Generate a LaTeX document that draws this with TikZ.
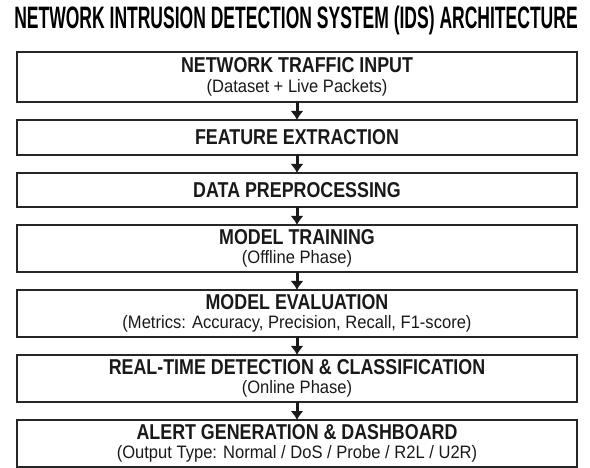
\documentclass[tikz,border=0pt]{standalone}
\usepackage{fontspec}
\setmainfont{Liberation Sans}
\usetikzlibrary{arrows.meta,positioning}
\newfontfamily\titlefam[FakeStretch=0.565]{Liberation Sans}
\newfontfamily\headfam[FakeStretch=0.83]{Liberation Sans}
\newfontfamily\subfam[FakeStretch=0.92]{Liberation Sans}
\newcommand\headfont{\headfam\bfseries\fontsize{21.5}{17}\selectfont}
\newcommand\subfont{\subfam\mdseries\fontsize{18}{17}\selectfont}

\begin{document}
\begin{tikzpicture}[x=1pt,y=-1pt,>=Latex,node distance=18pt,
  box/.style={draw=black!85,line width=1.6pt,minimum width=560pt,inner sep=0pt,outer sep=0pt,align=center,text=black!90,font=\headfont},
  flow/.style={-{Latex[length=9pt,width=13pt]},line width=3pt,black!90}]
\useasboundingbox (0,0) rectangle (590,468);
\node[font=\titlefam\bfseries\fontsize{31}{31}\selectfont] (title) at (296,20) {NETWORK INTRUSION DETECTION SYSTEM (IDS) ARCHITECTURE};
% pipeline stages
\node[box,minimum height=50pt] (input) at (297,77) {NETWORK TRAFFIC INPUT\\[3pt]\subfont (Dataset + Live Packets)};
\node[box,minimum height=35pt,below=of input] (feature) {FEATURE EXTRACTION};
\node[box,minimum height=34pt,below=of feature] (preproc) {DATA PREPROCESSING};
\node[box,minimum height=47pt,below=of preproc] (train) {MODEL TRAINING\\[2pt]\subfont (Offline Phase)};
\node[box,minimum height=47pt,below=of train] (eval) {MODEL EVALUATION\\[2pt]\subfont (Metrics: Accuracy, Precision, Recall, F1-score)};
\node[box,minimum height=47pt,below=of eval] (detect) {REAL-TIME DETECTION \& CLASSIFICATION\\[2pt]\subfont (Online Phase)};
\node[box,minimum height=47pt,below=of detect] (alert) {ALERT GENERATION \& DASHBOARD\\[2pt]\subfont (Output Type: Normal / DoS / Probe / R2L / U2R)};
% arrows
\draw[flow] (input)--(feature);\draw[flow] (feature)--(preproc);\draw[flow] (preproc)--(train);
\draw[flow] (train)--(eval);\draw[flow] (eval)--(detect);\draw[flow] (detect)--(alert);
\end{tikzpicture}
\end{document}
